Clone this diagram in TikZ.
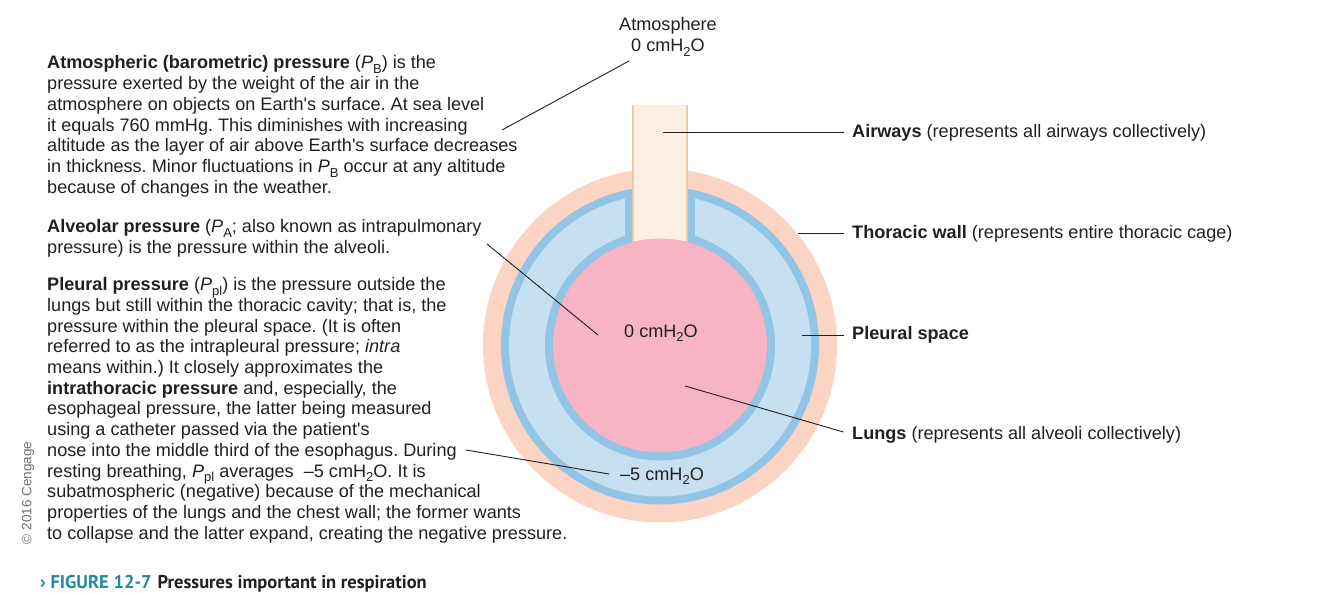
\documentclass[tikz,border=0pt]{standalone}
\usepackage{fontspec}
\setmainfont{Liberation Sans}
\newfontfamily\capfont{PT Sans}
\usetikzlibrary{calc}
\frenchspacing

\definecolor{txt}{HTML}{231F20}
\definecolor{wallpeach}{HTML}{FBD4C3}
\definecolor{pleurablue}{HTML}{92C4E5}
\definecolor{pleurapale}{HTML}{C6DFF1}
\definecolor{lungpink}{HTML}{F7B4C5}
\definecolor{airwaycream}{HTML}{FDF0E2}
\definecolor{airwayedge}{HTML}{E9CBAB}
\definecolor{figteal}{HTML}{1F8AA0}
\definecolor{credgray}{HTML}{6D6E71}

\newcommand{\lowsub}[1]{\raisebox{-0.25em}{\fontsize{13}{13}\selectfont #1}}
\newcommand{\Psub}[1]{\textit{P}\lowsub{#1}}
\newcommand{\water}{cmH\lowsub{2}O}
\newcommand{\apos}{\textquotesingle}

\tikzset{
  body/.style={font=\fontsize{18.1}{20.7}\selectfont, text=txt, align=left, inner sep=0pt},
  tag/.style={font=\fontsize{18.1}{20.7}\selectfont, text=txt, inner sep=0pt},
  leader/.style={draw=txt, line width=0.9pt},
}

\begin{document}
\begin{tikzpicture}[x=1pt,y=-1pt]
\useasboundingbox (0,0) rectangle (1318,593);

  % Coordinates
  \coordinate (C) at (660,345.5);   % centre of thorax

  % Thoracic wall, pleura and lungs
  \fill[wallpeach] (C) circle (177pt);
  \fill[pleurablue] (C) circle (159pt);
  \fill[pleurapale] (C) circle (151pt);
  \fill[pleurablue] (625,193) rectangle (695,260);
  \fill[pleurablue] (C) circle (115pt);

  % Airway tube
  \fill[airwaycream] (633,105) rectangle (687,250);
  \draw[airwayedge, line width=1.2pt] (633,105) -- (633,250) (687,105) -- (687,250);
  \fill[lungpink] (C) circle (107pt);

  % Pressures in the picture
  \node[tag, align=center] (atmos) at (668,37) {Atmosphere\\0 \water};
  \node[tag] (alvP) at (661,333) {0 \water};
  \node[tag] (plP) at (662,476) {--5 \water};

  % Right labels
  \node[tag, anchor=west] (airways) at (852,132.5) {\textbf{Airways} (represents all airways collectively)};
  \node[tag, anchor=west] (wall) at (852,233.5) {\textbf{Thoracic wall} (represents entire thoracic cage)};
  \node[tag, anchor=west] (pspace) at (852,335) {\textbf{Pleural space}};
  \node[tag, anchor=west] (lungs) at (852,434.5) {\textbf{Lungs} (represents all alveoli collectively)};

  % Left text (base = last line)
  \node[body, anchor=base west] (patm) at (47,193.2) {\textbf{Atmospheric (barometric) pressure} (\Psub{B}) is the\\
    pressure exerted by the weight of the air in the\\
    atmosphere on objects on Earth\apos s surface. At sea level\\
    it equals 760 mmHg. This diminishes with increasing\\
    altitude as the layer of air above Earth\apos s surface decreases\\
    in thickness. Minor fluctuations in \Psub{B} occur at any altitude\\
    because of changes in the weather.};
  \node[body, anchor=base west] (palv) at (47,253.2) {\textbf{Alveolar pressure} (\Psub{A}; also known as intrapulmonary\\
    pressure) is the pressure within the alveoli.};
  \node[body, anchor=base west] (ppl) at (47,539.1) {\textbf{Pleural pressure} (\Psub{pl}) is the pressure outside the\\
    lungs but still within the thoracic cavity; that is, the\\
    pressure within the pleural space. (It is often\\
    referred to as the intrapleural pressure; \textit{intra}\\
    means within.) It closely approximates the\\
    \textbf{intrathoracic pressure} and, especially, the\\
    esophageal pressure, the latter being measured\\
    using a catheter passed via the patient\apos s\\
    nose into the middle third of the esophagus. During\\
    resting breathing, \Psub{pl} averages\ \ --5 \water. It is\\
    subatmospheric (negative) because of the mechanical\\
    properties of the lungs and the chest wall; the former wants\\
    to collapse and the latter expand, creating the negative pressure.};

  % Leader lines
  \coordinate (atmA) at (629,61);
  \coordinate (atmB) at (502,130);
  \coordinate (awA) at (663,132.5);
  \coordinate (wallA) at (798,233.5);
  \coordinate (psA) at (802,335);
  \coordinate (lgA) at (685,386);
  \coordinate (alvA) at (487,244);
  \coordinate (alvB) at (598,335);
  \coordinate (plA) at (466,450);
  \coordinate (plB) at (609,474);
  \draw[leader] (atmA) -- (atmB);
  \draw[leader, shorten >=8pt] (awA) -- (airways.west);
  \draw[leader, shorten >=8pt] (wallA) -- (wall.west);
  \draw[leader, shorten >=8pt] (psA) -- (pspace.west);
  \draw[leader, shorten >=9pt] (lgA) -- (lungs.west);
  \draw[leader] (alvA) -- (alvB);
  \draw[leader] (plA) -- (plB);

  % Credit and caption
  \node[rotate=90, text=credgray, font=\fontsize{13.5}{15}\selectfont, inner sep=0pt] (credit) at (28,493) {© 2016 Cengage};
  \node[anchor=base west, inner sep=0pt, text=txt, font=\capfont\bfseries\fontsize{18.5}{20}\selectfont] (caption) at (40,588)
    {\textcolor{figteal}{› FIGURE 12-7}\hspace{6pt}Pressures important in respiration};

\end{tikzpicture}
\end{document}
